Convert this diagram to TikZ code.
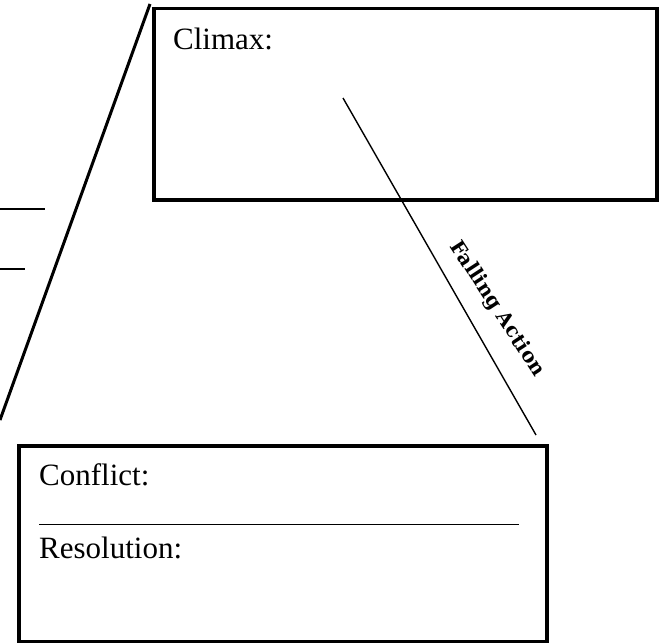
\documentclass[tikz,border=0pt]{standalone}
\usepackage{fontspec}
\setmainfont{Liberation Serif}
\newfontfamily\slabfont{DejaVu Serif}
\begin{document}
\begin{tikzpicture}[x=1pt,y=-1pt,
  box/.style={draw, line width=3.5pt, anchor=north west, inner sep=0pt},
  thinline/.style={line width=1.4pt},
  thickline/.style={line width=3pt},
  label/.style={anchor=base west, inner sep=0pt, font=\fontsize{31}{37}\selectfont}]
\useasboundingbox (0,0) rectangle (660,642);
\fill[white] (0,0) rectangle (660,642);
% boxes
\node[box, minimum width=503pt, minimum height=191pt] (climax) at (152,7) {};
\node[box, minimum width=528pt, minimum height=196pt] (conflict) at (17,444) {};
% texts
\node[label] (tclimax) at (173,49) {Climax:};
\node[label] (tconflict) at (39,485) {Conflict:};
\node[label] (tres) at (39,558) {Resolution:};
% underline in lower box
\coordinate (u1) at (39,524);
\coordinate (u2) at (519,524);
\draw[line width=1pt] (u1) -- (u2);
% rising action line
\coordinate (rbot) at (0,420);
\coordinate (rtop) at (150,4);
\draw[thickline] (rbot) -- (rtop);
% short lines on left
\coordinate (s1a) at (0,209);
\coordinate (s1b) at (45,209);
\coordinate (s2a) at (0,269);
\coordinate (s2b) at (25,269);
\draw[thinline] (s1a) -- (s1b);
\draw[thinline] (s2a) -- (s2b);
% falling action line
\coordinate (ftop) at (343,98);
\coordinate (fbot) at (536,435);
\draw[thinline] (ftop) -- (fbot);
\node[rotate=-57, font=\slabfont\bfseries\fontsize{20}{24}\selectfont, inner sep=0pt] (tfall) at (497,309) {Falling Action};
\end{tikzpicture}
\end{document}
